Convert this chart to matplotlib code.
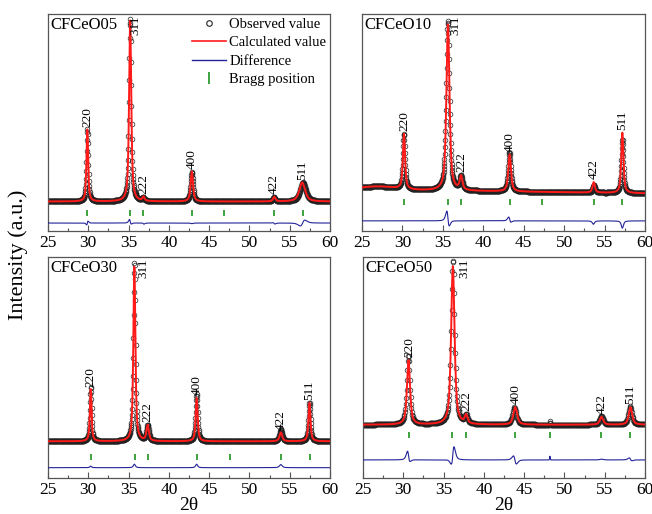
import numpy as np
import matplotlib
matplotlib.use("Agg")
import matplotlib.pyplot as plt
from matplotlib.lines import Line2D

plt.rcParams['font.family'] = ['Liberation Serif', 'DejaVu Serif']

# ---- data ----
samples = ["CFCeO05", "CFCeO10", "CFCeO30", "CFCeO50"]
hkl = ["220", "311", "222", "400", "422", "511"]

# Bragg positions (2theta)
bragg_05 = [29.88, 35.2, 36.85, 42.87, 46.88, 53.08, 56.6]
bragg_10 = [30.19, 35.6, 37.27, 43.26, 47.3, 53.64, 57.19]
bragg_30 = [30.3, 35.8, 37.4, 43.45, 47.58, 53.9, 57.5]
bragg_50 = [30.7, 36.1, 37.8, 43.9, 48.15, 54.6, 58.2]

# calculated peaks: position, height, fwhm
pos_05 = [29.88, 35.2, 36.85, 42.85, 53.08, 56.55]
h_05 = [40, 100, 2.2, 16.5, 2.5, 10.5]
fwhm_05 = [0.25, 0.32, 0.3, 0.35, 0.35, 0.85]
pos_10 = [30.19, 35.63, 37.25, 43.26, 53.66, 57.2]
h_10 = [30.5, 92, 7.5, 20.5, 5.8, 33.5]
fwhm_10 = [0.32, 0.45, 0.4, 0.4, 0.35, 0.32]
pos_30 = [30.3, 35.72, 37.37, 43.45, 53.9, 57.45]
h_30 = [28.5, 95, 8.5, 23.5, 4.8, 21]
fwhm_30 = [0.25, 0.3, 0.35, 0.3, 0.4, 0.3]
pos_50 = [30.65, 36.15, 37.8, 43.9, 54.6, 58.2]
h_50 = [35, 86, 4.5, 9.5, 4.2, 9.5]
fwhm_50 = [0.45, 0.5, 0.4, 0.55, 0.5, 0.5]

# observed vs calculated mismatch: peak shift and height ratio
dpos_05 = [0.005, -0.003, -0.03, 0.0, -0.04, 0.1]
hs_05 = [1.0, 1.01, 0.8, 0.98, 0.9, 1.0]
dpos_10 = [0.0, -0.015, 0.0, -0.02, 0.02, 0.0]
hs_10 = [1.0, 1.02, 1.0, 1.05, 0.7, 0.88]
dpos_30 = [0.0, 0.0, 0.0, 0.0, 0.0, 0.0]
hs_30 = [1.03, 1.02, 1.0, 1.08, 1.35, 1.0]
dpos_50 = [-0.025, 0.02, 0.0, -0.1, 0.0, -0.03]
hs_50 = [1.08, 1.04, 1.0, 1.0, 1.1, 1.05]

# background: level at 25 deg, slope; broad hump: position, height, fwhm
bg_05 = [-0.3, 0.0]
bg_10 = [6.3, -0.06]
bg_30 = [3.3, 0.0]
bg_50 = [12.3, 0.0]
hump_10 = [27.0, 1.8, 5.0]
extra_50 = [48.2, 2.0, 0.08]   # small observed feature missing from the fit

steps = [0.03, 0.03, 0.03, 0.05]

# ---- layout ----
W, H = 652, 514
boxes = [(48, 14, 330, 231), (362, 14, 645, 231),
         (48, 257, 330, 478), (363, 257, 645, 478)]
ylim = (-16.6, 103.3)
bragg_off = [-6.6, -0.7, -5.2, 6.5]
diff_off = [-12.2, -11.0, -11.0, -6.8]
dx311 = [0.63, 0.95, 1.15, 1.4]
dx220 = [0.0, 0.0, 0.0, 0.12]

C_OBS = "#222222"
C_CALC = "#ff1a1a"
C_DIFF = "#23239a"
C_BRAGG = "#2e9b2e"
SPINE = "#555555"


def pv(x, p, h, w, eta=0.7):
    g = np.exp(-4 * np.log(2) * ((x - p) / w) ** 2)
    l = 1.0 / (1 + 4 * ((x - p) / w) ** 2)
    return h * (eta * l + (1 - eta) * g)


panels = [
    (bragg_05, pos_05, h_05, fwhm_05, dpos_05, hs_05, bg_05, None, None),
    (bragg_10, pos_10, h_10, fwhm_10, dpos_10, hs_10, bg_10, hump_10, None),
    (bragg_30, pos_30, h_30, fwhm_30, dpos_30, hs_30, bg_30, None, None),
    (bragg_50, pos_50, h_50, fwhm_50, dpos_50, hs_50, bg_50, None, extra_50),
]

fig = plt.figure(figsize=(W / 100, H / 100), dpi=100)

for i, (name, pan) in enumerate(zip(samples, panels)):
    bragg, pos, hh, ww, dp, hs, bg, hump, extra = pan
    l, t, r, b = boxes[i]
    ax = fig.add_axes([l / W, 1 - b / H, (r - l) / W, (b - t) / H])

    x = np.arange(25, 60 + 1e-9, steps[i])
    base = bg[0] + bg[1] * (x - 25)
    if hump is not None:
        base = base + pv(x, *hump, eta=0.0)
    calc = base.copy()
    obs = base.copy()
    for p, h, w, d, s in zip(pos, hh, ww, dp, hs):
        calc += pv(x, p, h, w)
        obs += pv(x, p + d, h * s, w)
    if extra is not None:
        obs += pv(x, *extra, eta=0.0)

    ax.plot(x, obs, 'o', ms=3.4, mfc='none', mec=C_OBS, mew=0.5, zorder=2)
    ax.plot(x, calc, '-', color=C_CALC, lw=1.4, zorder=3)
    ax.plot(x, obs - calc + diff_off[i], '-', color=C_DIFF, lw=0.8, zorder=3)
    ax.vlines(bragg, bragg_off[i] - 1.6, bragg_off[i] + 1.6,
              color=C_BRAGG, lw=1.3, zorder=3)

    # peak labels
    for k, (p, lab) in enumerate(zip(pos, hkl)):
        if lab == "311":
            ax.text(p + dx311[i], 102.3, lab, rotation=90, fontsize=9.5,
                    ha='center', va='top', zorder=4)
        else:
            top = np.interp(p, x, calc)
            xo = dx220[i] if lab == "220" else 0.0
            ax.text(p + xo, top + 1.5, lab, rotation=90, fontsize=9.5,
                    ha='center', va='bottom', zorder=4)

    ax.text(0.01, 0.985, name, transform=ax.transAxes, fontsize=12,
            ha='left', va='top')

    ax.set_xlim(25, 60)
    ax.set_ylim(*ylim)
    ax.set_xticks(np.arange(25, 61, 5))
    ax.set_xticks(np.arange(27.5, 60, 5), minor=True)
    ax.set_yticks([])
    ax.tick_params(axis='x', which='major', direction='in', length=4,
                   width=0.8, labelsize=12.5, pad=3, color=SPINE)
    ax.tick_params(axis='x', which='minor', direction='in', length=2.5,
                   width=0.8, color=SPINE)
    for sp in ax.spines.values():
        sp.set_color(SPINE)
        sp.set_linewidth(0.9)
    if i >= 2:
        ax.set_xlabel("2θ", fontsize=14, labelpad=-1)

    if i == 0:
        handles = [
            Line2D([], [], ls='none', marker='o', ms=4, mfc='none',
                   mec=C_OBS, mew=0.8),
            Line2D([], [], color=C_CALC, lw=1.2),
            Line2D([], [], color=C_DIFF, lw=1.0),
            Line2D([], [], ls='none', marker='|', ms=9, mew=1.3,
                   color=C_BRAGG),
        ]
        ax.legend(handles, ["Observed value", "Calculated value",
                            "Difference", "Bragg position"],
                  loc='upper right', bbox_to_anchor=(1.0, 1.0),
                  frameon=False, fontsize=10.5, handlelength=2.3,
                  handletextpad=0.25, labelspacing=0.36, borderpad=0.15,
                  borderaxespad=0.1)

fig.text(18 / W, 1 - 255 / H, "Intensity (a.u.)", rotation=90,
         fontsize=16, ha='center', va='center')

fig.savefig("out.png", dpi=100)
